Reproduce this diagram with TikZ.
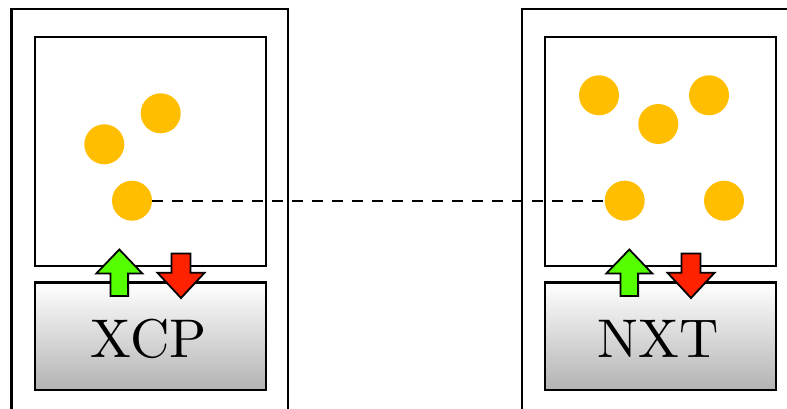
\documentclass[tikz,border=0pt]{standalone}
\usepackage{fontspec}
\newfontfamily\lmten{lmroman10-regular}[Extension=.otf]
\usepackage{tikz}
\definecolor{amber}{HTML}{FFBF00}
\definecolor{upgreen}{HTML}{55FF00}
\definecolor{downred}{HTML}{FF2200}
\tikzset{
  frame/.style={draw=black, line width=2.4pt},
  inbox/.style={draw=black, line width=2.4pt, rectangle, minimum width=231pt, minimum height=228.4pt, inner sep=0pt},
  devbox/.style={draw=black, line width=2.4pt, rectangle, minimum width=231pt, minimum height=107.3pt, inner sep=0pt, top color=white, bottom color=gray!60},
  devtext/.style={font=\lmten\fontsize{54.5}{60}\selectfont, inner sep=0pt},
  dot/.style={circle, fill=amber, draw=none, minimum size=40pt, inner sep=0pt},
  link/.style={draw=black, line width=2.2pt, dash pattern=on 10.5pt off 9.5pt},
  uparrow/.style={fill=upgreen, draw=black, line width=1.8pt, line join=miter},
  downarrow/.style={fill=downred, draw=black, line width=1.8pt, line join=miter}
}
\begin{document}
\begin{tikzpicture}[x=1pt, y=-1pt]
\useasboundingbox (0,0) rectangle (787,409);
\begin{scope}
\clip (0,0) rectangle (787,409);
% outer frames
\draw[frame] (11.5,420) -- (11.5,9) -- (288,9) -- (288,420);
\draw[frame] (521.7,420) -- (521.7,9) -- (800,9) -- (800,420);

% inner boxes
\node[inbox] (lbox) at (150.2,151.5) {};
\node[inbox] (rbox) at (660.2,151.5) {};
\node[devbox] (ldev) at (150.2,336.3) {};
\node[devbox] (rdev) at (660.2,336.3) {};
\node[devtext] (ltext) at (148.8,338.9) {XCP};
\node[devtext] (rtext) at (658.3,338.9) {NXT};

% dots left
\node[dot] (l1) at (104.3,144.3) {};
\node[dot] (l2) at (160.7,113.3) {};
\node[dot] (l3) at (132,200.7) {};
% dots right
\node[dot] (r1) at (599,95.3) {};
\node[dot] (r2) at (709,95.3) {};
\node[dot] (r3) at (658.3,124) {};
\node[dot] (r4) at (624.7,200.7) {};
\node[dot] (r5) at (724,200.7) {};

% dashed link
\draw[link] (l3.east) -- (r4.west);

% arrows
\foreach \bx in {34.7, 544.7} {
  \begin{scope}[shift={(\bx,0)}]
    \draw[uparrow] (84.6,249.5) -- (107.6,273.5) -- (93.4,273.5) -- (93.4,296) -- (75.8,296) -- (75.8,273.5) -- (61.6,273.5) -- cycle;
    \draw[downarrow] (146.3,298) -- (169.8,272.8) -- (155.8,272.8) -- (155.8,253.5) -- (136.8,253.5) -- (136.8,272.8) -- (122.8,272.8) -- cycle;
  \end{scope}
}
\end{scope}
\end{tikzpicture}
\end{document}
